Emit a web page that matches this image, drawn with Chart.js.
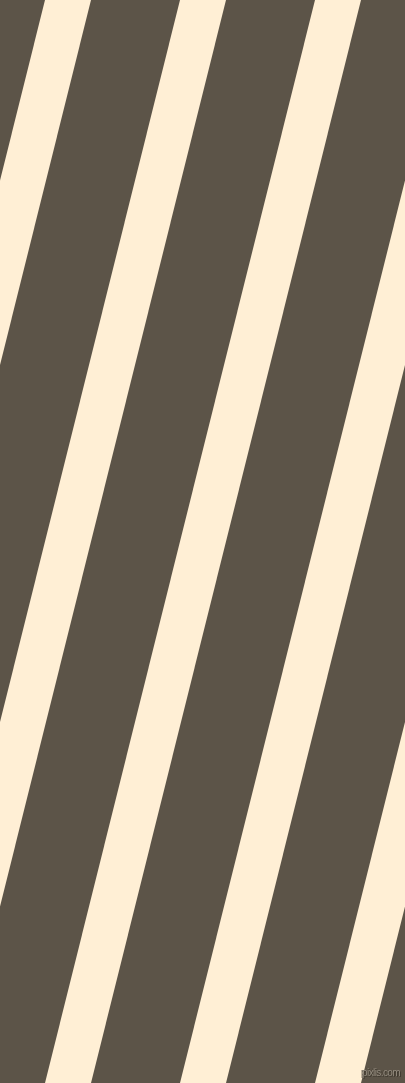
<!DOCTYPE html>
<html>
<head>
<meta charset="utf-8">
<script src="https://cdn.jsdelivr.net/npm/chart.js@4"></script>
<style>
  html, body { margin: 0; padding: 0; background: #5c5448; overflow: hidden; }
  #wrap { position: relative; width: 405px; height: 1083px; }
  canvas { display: block; }
  #mark { position: absolute; right: 5px; top: 1067px; font-family: "Liberation Sans", Arial, sans-serif; font-size: 10px; line-height: 12px; color: #948c7f; text-shadow: 1px 1px 0 #3f392f, -1px 0 0 #4a4338; letter-spacing: -0.6px; }
</style>
</head>
<body>
<div id="wrap">
<canvas id="c" width="405" height="1083"></canvas>
<div id="mark">pixlis.com</div>
</div>
<script>
// Stripe data: x position of each cream stripe's left edge along the top edge
const stripeTopX = [-90, 45, 180, 315, 450, 585];
const stripeWidth = 46;          // horizontal width of each cream stripe
const stripeShift = 270;         // horizontal drift from top to bottom edge
const canvasW = 405, canvasH = 1083;
const darkColor = '#5c5448';
const creamColor = '#ffefd5';

const datasets = stripeTopX.map(x0 => ({
  data: [
    { x: x0, y: 0 },
    { x: x0 + stripeWidth, y: 0 },
    { x: x0 + stripeWidth - stripeShift, y: canvasH },
    { x: x0 - stripeShift, y: canvasH },
    { x: x0, y: 0 }
  ],
  showLine: true,
  fill: 'shape',
  backgroundColor: creamColor,
  borderColor: creamColor,
  borderWidth: 0,
  pointRadius: 0,
  tension: 0
}));

const bg = {
  id: 'bg',
  beforeDraw(chart) {
    const ctx = chart.ctx;
    ctx.save();
    ctx.fillStyle = darkColor;
    ctx.fillRect(0, 0, chart.width, chart.height);
    ctx.restore();
  }
};

new Chart(document.getElementById('c'), {
  type: 'scatter',
  data: { datasets },
  options: {
    responsive: false,
    devicePixelRatio: 1,
    animation: false,
    layout: { padding: 0 },
    plugins: { legend: { display: false }, tooltip: { enabled: false } },
    scales: {
      x: { type: 'linear', min: 0, max: canvasW, display: false },
      y: { type: 'linear', min: 0, max: canvasH, reverse: true, display: false }
    }
  },
  plugins: [bg]
});
</script>
</body>
</html>
